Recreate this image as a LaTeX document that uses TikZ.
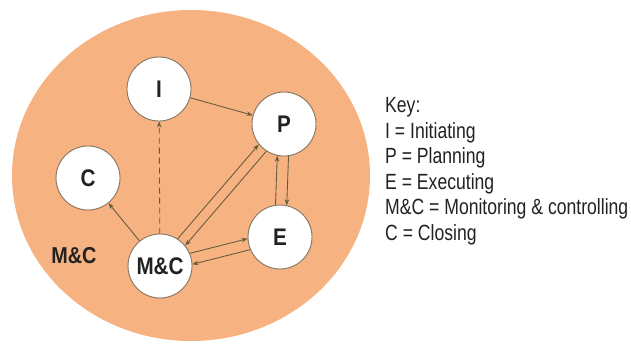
\documentclass[tikz,border=0pt]{standalone}
\usepackage{fontspec}
\setmainfont{Liberation Sans}[FakeStretch=0.8]
\newfontfamily\lblfont{Liberation Sans}[FakeStretch=0.86]
\usetikzlibrary{arrows.meta}
\definecolor{bgorange}{HTML}{F6B280}
\definecolor{ringcol}{HTML}{857462}
\definecolor{arrcol}{HTML}{625A3C}
\definecolor{txtcol}{HTML}{222222}
\tikzset{
  phase/.style={circle, draw=ringcol, line width=0.9pt, fill=white, minimum size=64pt, inner sep=0pt,
    font=\lblfont\bfseries\fontsize{24}{26}\selectfont, text=txtcol},
  flow/.style={draw=arrcol, line width=0.85pt, -{Stealth[length=6pt,width=4.5pt]}},
  keyline/.style={anchor=base west, inner sep=0pt, font=\fontsize{22}{24}\selectfont, text=txtcol}
}
\begin{document}
\begin{tikzpicture}[x=1pt,y=-1pt]
\useasboundingbox (0,0) rectangle (631,348);
\fill[bgorange] (191,175.5) ellipse [x radius=179, y radius=165.5];
\node[phase] (i) at (159,89) {I};
\node[phase] (p) at (284,124) {P};
\node[phase] (c) at (88,178) {C};
\node[phase] (e) at (280,237) {E};
\node[phase] (mc) at (160,266) {M\&C};
\node[font=\lblfont\bfseries\fontsize{23}{25}\selectfont, text=txtcol] (mclabel) at (74,256) {M\&C};
% connectors
\draw[flow] (i) -- (p);
\draw[flow, dashed, dash pattern=on 6pt off 4pt] (mc) -- (i);
\draw[flow] (mc) -- (c);
\draw[flow] (mc.57.9) -- (p.219.9);
\draw[flow] (p.237.9) -- (mc.39.9);
\draw[flow] (e.98) -- (p.258);
\draw[flow] (p.278) -- (e.78);
\draw[flow] (mc.23.6) -- (e.183.6);
\draw[flow] (e.203.6) -- (mc.3.6);
% key
\node[keyline] (k1) at (385,112) {Key:};
\node[keyline] (k2) at (385,138) {I = Initiating};
\node[keyline] (k3) at (385,163) {P = Planning};
\node[keyline] (k4) at (385,189) {E = Executing};
\node[keyline] (k5) at (385,214) {M\&C = Monitoring \& controlling};
\node[keyline] (k6) at (385,240) {C = Closing};
\end{tikzpicture}
\end{document}
